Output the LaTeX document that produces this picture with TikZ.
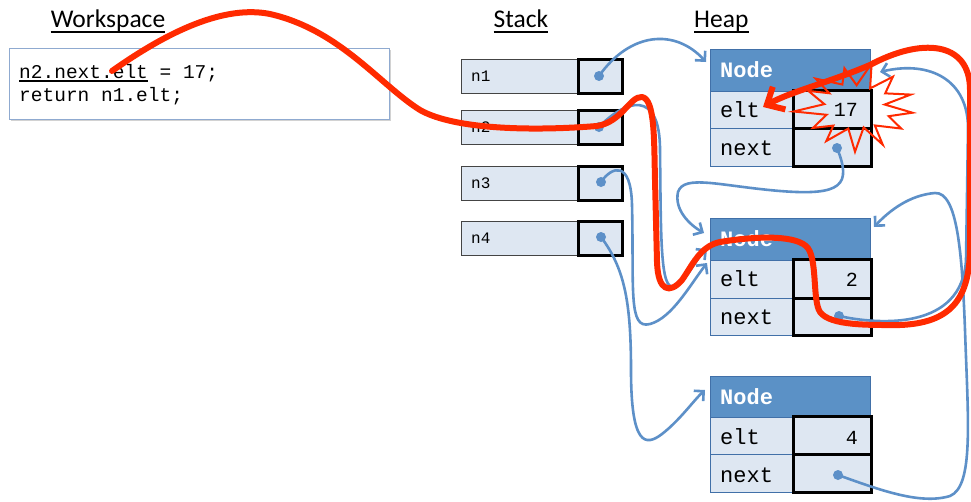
\documentclass[tikz,border=0pt]{standalone}
\usepackage{fontspec}
\setmainfont{Carlito}
\newfontfamily\mono{Liberation Mono}
\usetikzlibrary{arrows.meta,shadows}
\definecolor{hdrblue}{HTML}{5B91C6}
\definecolor{cellblue}{HTML}{DEE7F2}
\definecolor{hbord}{HTML}{4170A8}
\definecolor{ptrblue}{HTML}{5D90C8}
\definecolor{hotred}{HTML}{FF2A00}
\definecolor{wsbord}{HTML}{8FAAD0}
\definecolor{stkbord}{HTML}{444444}
\tikzset{
  title/.style={font=\fontsize{25.5}{25.5}\selectfont, inner sep=0pt, anchor=base},
  uline/.style={line width=1.8pt},
  code/.style={font=\mono\fontsize{19.5}{19.5}\selectfont, inner sep=0pt, anchor=base west},
  stklabel/.style={font=\mono\fontsize{16}{16}\selectfont, inner sep=0pt, anchor=base west},
  stkcell/.style={draw=stkbord, line width=1pt, fill=cellblue, minimum width=117pt, minimum height=34pt, inner sep=0pt},
  ptrcell/.style={draw=black, line width=3pt, fill=cellblue, minimum width=44pt, minimum height=34pt, inner sep=0pt},
  hdrcell/.style={draw=hbord, line width=1pt, fill=hdrblue},
  rowcell/.style={draw=hbord, line width=1pt, fill=cellblue},
  valbox/.style={draw=black, line width=3pt},
  fieldlabel/.style={font=\mono\fontsize{22}{22}\selectfont, inner sep=0pt, anchor=base west},
  hdrlabel/.style={font=\mono\bfseries\fontsize{22}{22}\selectfont, text=white, inner sep=0pt, anchor=base west},
  vallabel/.style={font=\mono\fontsize{20}{20}\selectfont, inner sep=0pt, anchor=base east},
  pointer/.style={draw=ptrblue, line width=2.6pt, -{Straight Barb[length=7pt,width=14pt]}},
  ptrdot/.style={circle, fill=ptrblue, inner sep=0pt, minimum size=10pt},
  redpath/.style={draw=hotred, line width=6pt, line cap=round, line join=round, -{Straight Barb[length=14pt,width=26pt,line width=6pt]}},
  burst/.style={draw=hotred, line width=2pt, line join=miter},
}
\begin{document}
\begin{tikzpicture}[x=1pt,y=-1pt]
\useasboundingbox (0,0) rectangle (971,501);
\fill[white] (0,0) rectangle (971,501);

% titles
\node[title] (tws) at (108,27) {Workspace};
\draw[uline] ([yshift=-5pt]tws.base west) -- ([yshift=-5pt]tws.base east);
\node[title] (tst) at (521,27) {Stack};
\draw[uline] ([yshift=-5pt]tst.base west) -- ([yshift=-5pt]tst.base east);
\node[title, anchor=base west] (thp) at (694,27) {Heap};
\draw[uline] ([yshift=-5pt]thp.base west) -- ([yshift=-5pt]thp.base east);

% workspace box
\path[draw=wsbord, line width=1pt, fill=white, drop shadow={opacity=0.35, shadow xshift=2pt, shadow yshift=-2pt}] (9,48) rectangle (389,119);
\node[code] (c1) at (19,78) {n2.next.elt = 17;};
\node[code] (c2) at (19,101) {return n1.elt;};
\draw[line width=1.2pt] ([yshift=-3pt]c1.base west) -- ++(128.5,0);

% stack
\node[stkcell] (s1) at (519.5,76) {};
\node[stkcell] (s2) at (519.5,127) {};
\node[stkcell] (s3) at (519.5,183) {};
\node[stkcell] (s4) at (519.5,238) {};
\node[ptrcell] (p1) at (600,76) {};
\node[ptrcell] (p2) at (600,127) {};
\node[ptrcell] (p3) at (600,183) {};
\node[ptrcell] (p4) at (600,238) {};
\node[stklabel] (l1) at (471,81) {n1};
\node[stklabel] (l2) at (471,132) {n2};
\node[stklabel] (l3) at (471,188) {n3};
\node[stklabel] (l4) at (471,243) {n4};

% heap node 1
\path[hdrcell] (710,49) rectangle (870,91);
\path[rowcell] (710,91) rectangle (870,128);
\path[rowcell] (710,128) rectangle (870,166);
\draw[valbox] (793,90) rectangle (871,128);
\draw[valbox] (793,128) rectangle (871,166);
\node[hdrlabel] (h1) at (720,77) {Node};
\node[fieldlabel] (e1) at (720,117) {elt};
\node[fieldlabel] (x1) at (720,155) {next};
\node[vallabel] (v1) at (858,116) {17};

% heap node 2
\path[hdrcell] (710,218) rectangle (870,260);
\path[rowcell] (710,260) rectangle (870,298);
\path[rowcell] (710,298) rectangle (870,335);
\draw[valbox] (793,259) rectangle (871,298);
\draw[valbox] (793,298) rectangle (871,335);
\node[hdrlabel] (h2) at (720,246) {Node};
\node[fieldlabel] (e2) at (720,286) {elt};
\node[fieldlabel] (x2) at (720,324) {next};
\node[vallabel] (v2) at (858,286) {2};

% heap node 3
\path[hdrcell] (710,376) rectangle (870,417);
\path[rowcell] (710,417) rectangle (870,454);
\path[rowcell] (710,454) rectangle (870,492);
\draw[valbox] (793,416) rectangle (871,454);
\draw[valbox] (793,454) rectangle (871,492);
\node[hdrlabel] (h3) at (720,404) {Node};
\node[fieldlabel] (e3) at (720,444) {elt};
\node[fieldlabel] (x3) at (720,482) {next};
\node[vallabel] (v3) at (858,444) {4};

% dots and arrow targets
\node[ptrdot] (d1) at (599,76) {};
\node[ptrdot] (d2) at (599,127) {};
\node[ptrdot] (d3) at (601,182) {};
\node[ptrdot] (d4) at (601,237) {};
\node[ptrdot] (dn1) at (837,148) {};
\node[ptrdot] (dn2) at (839,316) {};
\node[ptrdot] (dn3) at (838,475) {};
\coordinate (t1) at (706,62);
\coordinate (t2) at (707,249);
\coordinate (t3) at (707,263);
\coordinate (t4) at (704,233);
\coordinate (t5) at (705,390);
\coordinate (t6) at (880,72);
\coordinate (t7) at (874,227);

% pointers
\draw[pointer] (d1.center) .. controls (630,32) and (675,28) .. (t1);
\draw[pointer] (d2.center) .. controls (625,100) and (660,88) .. (660,150) .. controls (661,235) and (660,292) .. (674,286) .. controls (688,280) and (696,258) .. (t2);
\draw[pointer] (d3.center) .. controls (612,166) and (631,160) .. (632,205) .. controls (634,290) and (628,330) .. (650,324) .. controls (672,318) and (690,285) .. (t3);
\draw[pointer] (d4.center) .. controls (624,268) and (631,300) .. (631,370) .. controls (631,445) and (645,447) .. (662,434) .. controls (680,420) and (694,400) .. (t5);
\draw[pointer] (dn1.center) .. controls (852,185) and (842,196) .. (780,191) .. controls (720,186) and (684,174) .. (678,192) .. controls (674,210) and (690,225) .. (t4);
\draw[pointer] (dn2.center) .. controls (880,325) and (962,330) .. (966,260) -- (968,130) .. controls (969,80) and (930,60) .. (t6);
\draw[pointer] (dn3.center) .. controls (880,490) and (920,505) .. (950,496) .. controls (974,486) and (968,420) .. (965,330) .. controls (962,250) and (957,192) .. (935,193) .. controls (910,195) and (890,210) .. (t7);

% starburst
\draw[burst] plot[samples at={0,...,25}, variable=\k]
  ({856+(57-25*mod(\k,2))*(1+0.1*sin(\k*97))*cos(\k*360/26+8)},
   {107+(41-18*mod(\k,2))*(1+0.1*sin(\k*131))*sin(\k*360/26+8)}) -- cycle;

% red path
\coordinate (rs) at (112,71);
\coordinate (re) at (763,107);
\draw[redpath] (rs) .. controls (170,30) and (225,5) .. (270,14)
  .. controls (340,30) and (380,85) .. (420,110)
  .. controls (455,130) and (535,131) .. (597,126)
  .. controls (622,122) and (630,96) .. (642,97)
  .. controls (655,99) and (654,140) .. (655,180)
  -- (657,262)
  .. controls (658,292) and (670,294) .. (682,280)
  .. controls (692,266) and (700,246) .. (720,242)
  .. controls (750,237) and (792,234) .. (806,246)
  .. controls (818,256) and (812,300) .. (820,312)
  .. controls (830,326) and (870,325) .. (900,325)
  .. controls (950,323) and (969,300) .. (970,250)
  -- (970,90)
  .. controls (970,40) and (920,38) .. (870,65)
  .. controls (830,82) and (790,92) .. (re);
\end{tikzpicture}
\end{document}
